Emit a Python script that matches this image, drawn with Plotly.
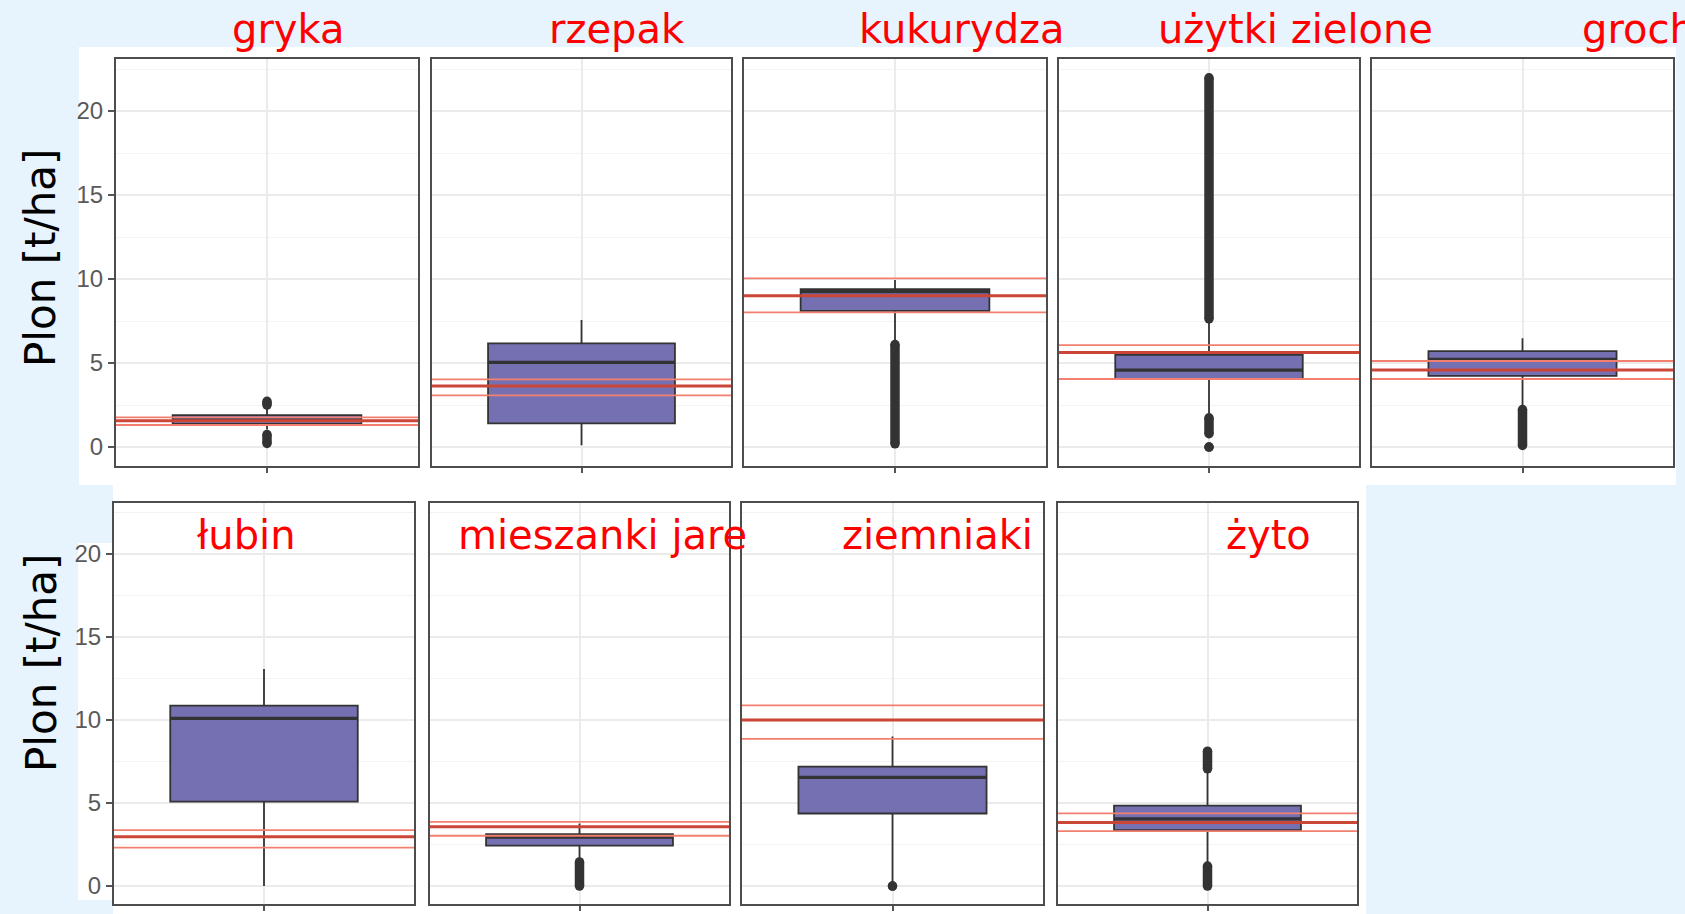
import plotly.graph_objects as go

W, H = 1685, 914

# ---------------- data ----------------
crops = ["gryka", "rzepak", "kukurydza", "użytki zielone", "groch",
         "łubin", "mieszanki jare", "ziemniaki", "żyto"]
q1 = [1.37, 1.41, 8.10, 4.05, 4.24, 5.08, 2.43, 4.37, 3.37]
median = [1.60, 5.04, 9.25, 4.58, 5.22, 10.10, 2.95, 6.55, 4.05]
q3 = [1.90, 6.17, 9.40, 5.48, 5.71, 10.86, 3.13, 7.19, 4.84]
whisker_low = [1.05, 0.10, 6.30, 2.00, 2.40, 0.00, 1.60, 0.20, 1.40]
whisker_high = [2.30, 7.56, 9.94, 7.50, 6.47, 13.07, 3.77, 9.00, 6.90]
# outlier ranges (dense runs of points) per crop: (low, high)
outliers = [
    [(0.21, 0.74), (2.50, 2.72)],
    [],
    [(0.19, 6.10)],
    [(0.0, 0.0), (0.79, 1.74), (7.63, 21.98)],
    [(0.09, 2.23)],
    [],
    [(0.0, 1.45)],
    [(0.0, 0.0)],
    [(0.0, 1.20), (7.06, 8.12)],
]
# reference yields (red lines): central value, lower and upper bound
ref_mid = [1.57, 3.63, 9.00, 5.63, 4.58, 2.97, 3.57, 10.00, 3.83]
ref_low = [1.31, 3.08, 8.02, 4.05, 4.05, 2.31, 3.03, 8.86, 3.31]
ref_high = [1.77, 4.03, 10.04, 6.07, 5.12, 3.37, 3.87, 10.88, 4.38]

y_ticks = [0, 5, 10, 15, 20]
y_range = [-1.1, 23.1]
y_title = "Plon [t/ha]"

# ---------------- layout geometry (pixels) ----------------
panels_px = [
    (116, 418, 59, 465.5), (432, 731, 59, 465.5), (744, 1046, 59, 465.5),
    (1059, 1359, 59, 465.5), (1372, 1673, 59, 465.5),
    (114, 414, 502.5, 904.3), (430, 729, 502.5, 904.3),
    (742, 1043, 502.5, 904.3), (1058, 1357, 502.5, 904.3),
]
title_pos = [  # (x, y, xanchor)
    (288, 29, "center"), (617, 29, "center"), (962, 29, "center"),
    (1295, 29, "center"), (1580, 29, "left"),
    (246, 535, "center"), (602, 535, "center"), (937, 535, "center"),
    (1268, 535, "center"),
]

BG = "#E7F4FD"
BOX_FILL = "#7470B2"
DARK = "#333333"
RED_MID = "#CC4638"
RED_SIDE = "#F3806F"
BOX_WIDTH = 0.75


def fx(p):
    return p / W


def fy(p):
    return 1 - p / H


fig = go.Figure()
layout = dict(
    width=W, height=H, margin=dict(l=0, r=0, t=0, b=0),
    paper_bgcolor=BG, plot_bgcolor="white", showlegend=False,
    hovermode=False,
)
shapes = [
    dict(type="rect", xref="paper", yref="paper", layer="below",
         x0=fx(79), x1=fx(1676), y0=fy(485), y1=fy(47),
         fillcolor="white", line=dict(width=0)),
    dict(type="rect", xref="paper", yref="paper", layer="below",
         x0=fx(113), x1=fx(1366), y0=fy(914), y1=fy(485),
         fillcolor="white", line=dict(width=0)),
    dict(type="rect", xref="paper", yref="paper", layer="below",
         x0=fx(78), x1=fx(113), y0=fy(900), y1=fy(543),
         fillcolor="white", line=dict(width=0)),
]
annotations = []

for i, crop in enumerate(crops):
    n = i + 1
    xa = "x" if n == 1 else f"x{n}"
    ya = "y" if n == 1 else f"y{n}"
    l, r, t, b = panels_px[i]
    first_col = i in (0, 5)

    layout["xaxis" if n == 1 else f"xaxis{n}"] = dict(
        domain=[fx(l), fx(r)], anchor=ya, range=[-0.6, 0.6],
        tickvals=[0], ticktext=[""], ticks="outside", ticklen=5,
        tickwidth=1.5, tickcolor="#555555",
        showgrid=True, gridcolor="#EBEBEB", gridwidth=1.5,
        zeroline=False, showline=True, mirror=True,
        linecolor="#4D4D4D", linewidth=2, fixedrange=True,
    )
    layout["yaxis" if n == 1 else f"yaxis{n}"] = dict(
        domain=[fy(b), fy(t)], anchor=xa, range=y_range,
        tickvals=y_ticks, showticklabels=first_col,
        ticks="outside" if first_col else "", ticklen=6, tickwidth=1.5,
        tickcolor="#555555",
        tickfont=dict(family="Liberation Sans", size=24, color="#5A5A5A"),
        showgrid=True, gridcolor="#EBEBEB", gridwidth=1.5,
        minor=dict(dtick=2.5, tick0=0, showgrid=True,
                   gridcolor="#F3F3F3", gridwidth=1.2),
        zeroline=False, showline=True, mirror=True,
        linecolor="#4D4D4D", linewidth=2, fixedrange=True,
    )

    fig.add_trace(go.Box(
        x=[0], q1=[q1[i]], median=[median[i]], q3=[q3[i]],
        lowerfence=[whisker_low[i]], upperfence=[whisker_high[i]],
        width=BOX_WIDTH, whiskerwidth=0, fillcolor=BOX_FILL,
        line=dict(color=DARK, width=1.8), boxpoints=False,
        xaxis=xa, yaxis=ya, hoverinfo="skip",
    ))
    # thicker median bar, as in ggplot
    fig.add_trace(go.Scatter(
        x=[-BOX_WIDTH / 2, BOX_WIDTH / 2], y=[median[i], median[i]],
        mode="lines", line=dict(color=DARK, width=3.2),
        xaxis=xa, yaxis=ya, hoverinfo="skip",
    ))
    for lo, hi in outliers[i]:
        fig.add_trace(go.Scatter(
            x=[0, 0], y=[lo, hi], mode="lines+markers",
            line=dict(color=DARK, width=9.5),
            marker=dict(color=DARK, size=9.5),
            xaxis=xa, yaxis=ya, hoverinfo="skip",
        ))

    for val, col, wdt in ((ref_low[i], RED_SIDE, 1.8),
                          (ref_high[i], RED_SIDE, 1.8),
                          (ref_mid[i], RED_MID, 3)):
        shapes.append(dict(
            type="line", xref=f"{xa} domain", yref=ya,
            x0=0, x1=1, y0=val, y1=val, layer="above",
            line=dict(color=col, width=wdt),
        ))

    tx, ty, anc = title_pos[i]
    annotations.append(dict(
        text=crop, xref="paper", yref="paper", x=fx(tx), y=fy(ty),
        xanchor=anc, yanchor="middle", showarrow=False,
        font=dict(family="DejaVu Sans", size=40, color="#FF0000"),
    ))

for cy in (258, 663):
    annotations.append(dict(
        text=y_title, xref="paper", yref="paper", x=fx(41), y=fy(cy),
        xanchor="center", yanchor="middle", showarrow=False, textangle=-90,
        font=dict(family="DejaVu Sans", size=42, color="black"),
    ))

layout["shapes"] = shapes
layout["annotations"] = annotations
fig.update_layout(**layout)
fig.write_html(
    "out.html",
    config={"displayModeBar": False},
    post_script="document.body.style.margin='0';"
                "document.body.style.overflow='hidden';"
                f"document.body.style.background='{BG}';",
)
